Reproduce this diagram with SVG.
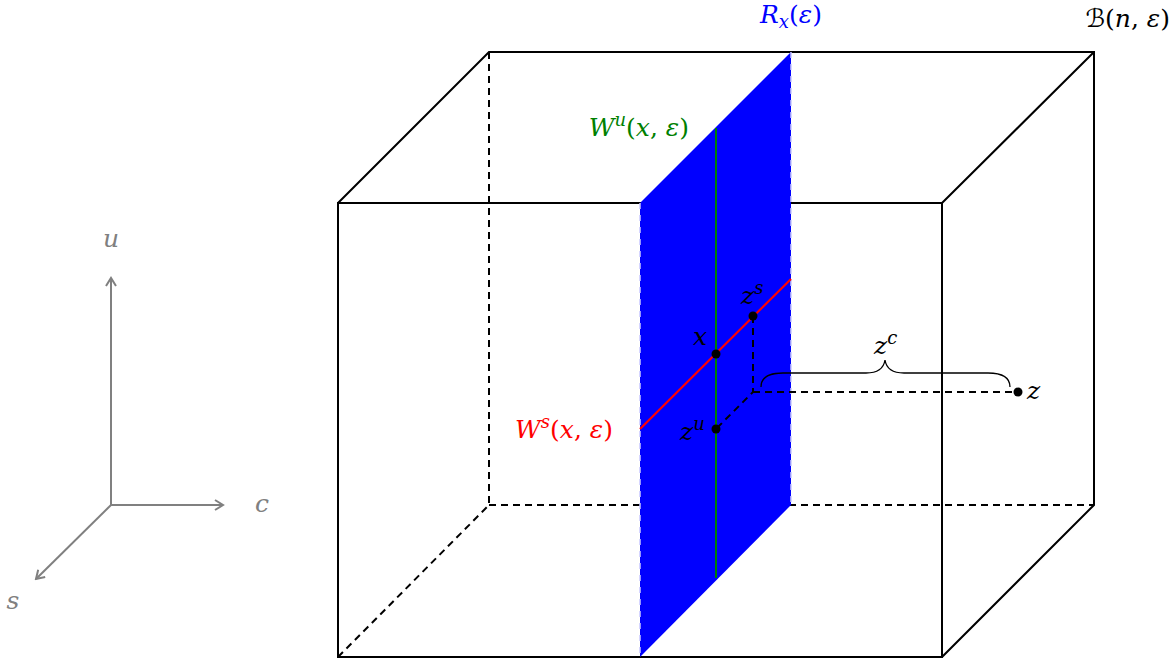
<svg xmlns="http://www.w3.org/2000/svg" width="1172" height="661" viewBox="0 0 1172 661">
<style>
.box{stroke:#000;stroke-width:2;fill:none}
.dash{stroke:#000;stroke-width:2;fill:none;stroke-dasharray:7 5}
.ax{stroke:#808080;stroke-width:2;fill:none}
text{font-family:'DejaVu Serif',serif;font-style:italic;font-size:25px}
.r{font-style:normal}
.sup{font-size:18px}
</style>
<defs>
<marker id="arr" viewBox="0 0 12 12" refX="10" refY="6" markerWidth="12" markerHeight="12" markerUnits="userSpaceOnUse" orient="auto">
<path d="M2,1 L10,6 L2,11" fill="none" stroke="#808080" stroke-width="2"/>
</marker>
</defs>
<g id="axes">
<line class="ax" x1="111" y1="505" x2="111" y2="278" marker-end="url(#arr)"/>
<line class="ax" x1="111" y1="505" x2="223" y2="505" marker-end="url(#arr)"/>
<line class="ax" x1="111" y1="505" x2="36" y2="579" marker-end="url(#arr)"/>
<text x="111" y="247" text-anchor="middle" fill="#808080">u</text>
<text x="262" y="512" text-anchor="middle" fill="#808080">c</text>
<text x="13" y="609" text-anchor="middle" fill="#808080">s</text>
</g>
<g id="box">
<line class="dash" x1="489" y1="52" x2="489" y2="505"/>
<line class="dash" x1="489" y1="505" x2="1094" y2="505"/>
<line class="dash" x1="338" y1="657" x2="489" y2="505"/>
<rect class="box" x="338" y="203" width="604" height="454"/>
<path class="box" d="M338,203 L489,52 L1094,52 L1094,505 L942,657 M942,203 L1094,52"/>
</g>
<g id="plane">
<polygon points="640,203 791,52 791,505 640,657" fill="#0000ff"/>
<line x1="640" y1="203" x2="640" y2="657" stroke="#c8c8ff" stroke-width="1.5" stroke-dasharray="6 6"/>
<line x1="791" y1="52" x2="791" y2="505" stroke="#c8c8ff" stroke-width="1.5" stroke-dasharray="6 6"/>
</g>
<g id="connectors">
<line x1="716" y1="128" x2="716" y2="578" stroke="#008000" stroke-width="2"/>
<line x1="640" y1="429" x2="791" y2="279" stroke="#ff0000" stroke-width="2.2"/>
<path class="dash" d="M753,316 L753,392 L716,429 M753,392 L1018,392"/>
<path d="M761,387 Q761,373 783,373 L866,373 Q883,373 885,360 Q887,373 904,373 L988,373 Q1010,373 1010,387" fill="none" stroke="#000" stroke-width="1.3"/>
</g>
<g id="points">
<circle cx="716" cy="354" r="4.5"/>
<circle cx="753" cy="316" r="4.5"/>
<circle cx="716" cy="429" r="4.5"/>
<circle cx="1018" cy="392" r="4.5"/>
</g>
<g id="labels">
<text x="791" y="23" text-anchor="middle" fill="#0000ff">R<tspan class="sup" dy="5">x</tspan><tspan class="r" dy="-5">(</tspan>ε<tspan class="r">)</tspan></text>
<text x="1170" y="27" fill="#000" text-anchor="end"><tspan font-family="DejaVu Sans,sans-serif" font-style="normal">ℬ</tspan><tspan class="r">(</tspan>n<tspan class="r">, </tspan>ε<tspan class="r">)</tspan></text>
<text x="689" y="136" text-anchor="end" fill="#008000">W<tspan class="sup" dy="-10">u</tspan><tspan class="r" dy="10">(</tspan>x<tspan class="r">, </tspan>ε<tspan class="r">)</tspan></text>
<text x="613" y="438" text-anchor="end" fill="#ff0000">W<tspan class="sup" dy="-10">s</tspan><tspan class="r" dy="10">(</tspan>x<tspan class="r">, </tspan>ε<tspan class="r">)</tspan></text>
<text x="693" y="345">x</text>
<text x="741" y="304">z<tspan class="sup" dy="-10">s</tspan></text>
<text x="680" y="440">z<tspan class="sup" dy="-10">u</tspan></text>
<text x="874" y="354">z<tspan class="sup" dy="-10">c</tspan></text>
<text x="1027" y="399">z</text>
</g>
</svg>
